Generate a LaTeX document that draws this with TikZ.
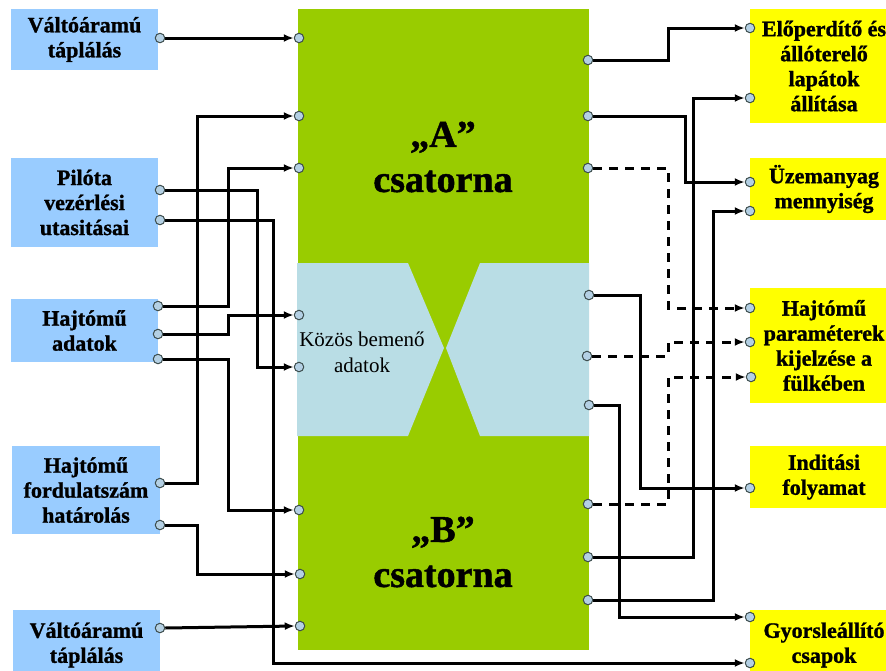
\documentclass[tikz,border=0pt]{standalone}
\usepackage{fontspec}
\setmainfont{Liberation Serif}[BoldFeatures={FakeBold=1.2}]
\usetikzlibrary{arrows.meta}
\pgfdeclarelayer{bg}
\pgfdeclarelayer{wires}
\pgfsetlayers{bg,wires,main}
\definecolor{chgreen}{HTML}{99CC00}
\definecolor{inblue}{HTML}{99CCFF}
\definecolor{combl}{HTML}{B9DDE5}
\definecolor{outyel}{HTML}{FFFF00}
\definecolor{portfill}{HTML}{B4D0E4}
\definecolor{portdraw}{HTML}{3C4C4C}
\tikzset{
  lbox/.style={fill=inblue, draw=none, align=center, inner sep=0pt,
    font=\bfseries\fontsize{22}{25}\selectfont},
  ybox/.style={lbox, fill=outyel},
  port/.style={circle, fill=portfill, draw=portdraw, line width=1pt,
    minimum size=9.5pt, inner sep=0pt},
  wire/.style={line width=3pt, black, -{Latex[length=10pt,width=8pt]}},
  dwire/.style={wire, dash pattern=on 9pt off 7pt},
  chtext/.style={align=center, font=\bfseries\fontsize{38}{45}\selectfont},
}
\begin{document}
\begin{tikzpicture}[x=1pt,y=-1pt]
\useasboundingbox (0,0) rectangle (886,670);
\clip (0,0) rectangle (886,670);

\begin{pgfonlayer}{bg}
  \fill[white] (0,0) rectangle (886,670);
  % central channel block
  \fill[chgreen] (298,9) rectangle (589,650);
  \fill[combl] (297,263) -- (408,263) -- (444,348) -- (408,436) -- (297,436) -- cycle;
  \fill[combl] (480,263) -- (589,263) -- (589,436) -- (480,436) -- (446,348) -- cycle;
  \node[chtext] (chA) at (443,157) {„A”\\csatorna};
  \node[chtext] (chB) at (443,552) {„B”\\csatorna};
  \node[align=center, font=\fontsize{21}{26}\selectfont] (kozos) at (362,352) {Közös bemenő\\adatok};

  % input boxes
  \node[lbox, minimum width=147pt, minimum height=61pt] (B1) at (84.5,39.5) {Váltóáramú\\táplálás};
  \node[lbox, minimum width=147pt, minimum height=89pt] (B2) at (84.5,202.5) {Pilóta\\vezérlési\\utasitásai};
  \node[lbox, minimum width=147pt, minimum height=63pt] (B3) at (84.5,330.5) {Hajtómű\\adatok};
  \node[lbox, minimum width=148pt, minimum height=88pt] (B4) at (86,490) {Hajtómű\\fordulatszám\\határolás};
  \node[lbox, minimum width=147pt, minimum height=70pt] (B5) at (86.5,645) {Váltóáramú\\táplálás};

  % output boxes
  \node[ybox, minimum width=148pt, minimum height=114pt] (Y1) at (824,66) {Előperdítő és\\állóterelő\\lapátok\\állítása};
  \node[ybox, minimum width=148pt, minimum height=62pt] (Y2) at (824,189) {Üzemanyag\\mennyiség};
  \node[ybox, minimum width=148pt, minimum height=115pt] (Y3) at (824,345.5) {Hajtómű\\paraméterek\\kijelzése a\\fülkében};
  \node[ybox, minimum width=148pt, minimum height=62pt] (Y4) at (824,477) {Inditási\\folyamat};
  \node[ybox, minimum width=148pt, minimum height=70pt] (Y5) at (824,645) {Gyorsleállító\\csapok};
\end{pgfonlayer}

% ports on input boxes
\node[port] (L1) at (160,38) {};
\node[port] (L2a) at (160,190) {};
\node[port] (L2b) at (160,220) {};
\node[port] (L3a) at (158,306) {};
\node[port] (L3b) at (158,334) {};
\node[port] (L3c) at (158,359) {};
\node[port] (L4a) at (160,483) {};
\node[port] (L4b) at (160,525) {};
\node[port] (L5) at (160,628) {};

% ports on left of channel block
\node[port] (GL1) at (299,38) {};
\node[port] (GL2) at (299,116) {};
\node[port] (GL3) at (299,168) {};
\node[port] (GL4) at (299,315) {};
\node[port] (GL5) at (299,367) {};
\node[port] (GL6) at (299,510) {};
\node[port] (GL7) at (300,574) {};
\node[port] (GL8) at (300,626) {};

% ports on right of channel block
\node[port] (GR1) at (588,60) {};
\node[port] (GR2) at (588,116) {};
\node[port] (GR3) at (588,168) {};
\node[port] (GR4) at (589,295) {};
\node[port] (GR5) at (587,356) {};
\node[port] (GR6) at (589,405) {};
\node[port] (GR7) at (588,504) {};
\node[port] (GR8) at (588,557) {};
\node[port] (GR9) at (588,600) {};

% ports on output boxes
\node[port] (Y1a) at (750,28) {};
\node[port] (Y1b) at (750,98) {};
\node[port] (Y2a) at (750,182) {};
\node[port] (Y2b) at (750,211) {};
\node[port] (Y3a) at (750,308) {};
\node[port] (Y3b) at (750,342) {};
\node[port] (Y3c) at (751,377) {};
\node[port] (Y4a) at (750,488) {};
\node[port] (Y5a) at (750,617) {};
\node[port] (Y5b) at (750,663) {};

% vertical tracks
\coordinate (ta) at (197,0);
\coordinate (tb) at (228,0);
\coordinate (tc) at (257,0);
\coordinate (td) at (273,0);
\coordinate (te) at (619,0);
\coordinate (tf) at (640,0);
\coordinate (tg) at (668,0);
\coordinate (th) at (685,0);
\coordinate (ti) at (693,0);
\coordinate (tk) at (713,0);

\begin{pgfonlayer}{wires}
  % left side
  \draw[wire] (L1.east) -- (GL1.west);
  \draw[wire] (L4a.east) -| (ta |- GL2.west) -- (GL2.west);
  \draw[wire] (L3a.east) -| (tb |- GL3.west) -- (GL3.west);
  \draw[wire] (L2a.east) -| (tc |- GL5.west) -- (GL5.west);
  \draw[wire] (L2b.east) -| (td |- Y5b.west) -- (Y5b.west);
  \draw[wire] (L3b.east) -| (tb |- GL4.west) -- (GL4.west);
  \draw[wire] (L3c.east) -| (tb |- GL6.west) -- (GL6.west);
  \draw[wire] (L4b.east) -| (ta |- GL7.west) -- (GL7.west);
  \draw[wire] (L5.east) -- (GL8.west);
  % right side
  \draw[wire] (GR1.east) -| (tg |- Y1a.west) -- (Y1a.west);
  \draw[wire] (GR2.east) -| (th |- Y2a.west) -- (Y2a.west);
  \draw[dwire] (GR3.east) -| (tg |- Y3a.west) -- (Y3a.west);
  \draw[wire] (GR8.east) -| (ti |- Y1b.west) -- (Y1b.west);
  \draw[wire] (GR9.east) -| (tk |- Y2b.west) -- (Y2b.west);
  \draw[wire] (GR4.east) -| (tf |- Y4a.west) -- (Y4a.west);
  \draw[dwire] (GR5.east) -| (tg |- Y3b.west) -- (Y3b.west);
  \draw[dwire] (GR7.east) -| (tg |- Y3c.west) -- (Y3c.west);
  \draw[wire] (GR6.east) -| (te |- Y5a.west) -- (Y5a.west);
\end{pgfonlayer}
\end{tikzpicture}
\end{document}
